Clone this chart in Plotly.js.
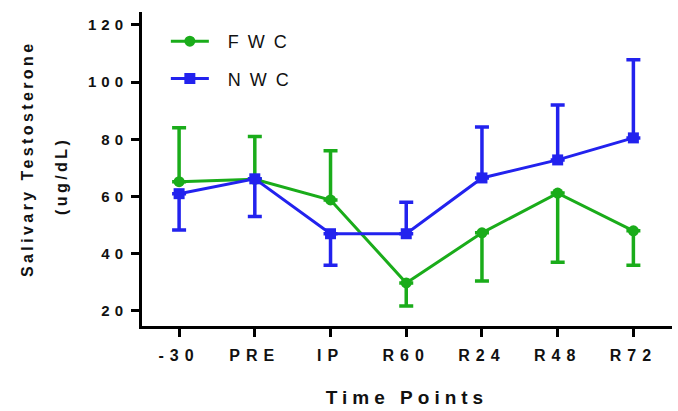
<!DOCTYPE html>
<html>
<head>
<meta charset="utf-8">
<script src="https://cdn.plot.ly/plotly-3.0.1.min.js"></script>
<style>
html,body{margin:0;padding:0;background:#fff;}
.xtick text { letter-spacing: 6px; }
.ytick text { letter-spacing: 5px; }
.legendtext { letter-spacing: 9px; }
.g-xtitle text { letter-spacing: 5px; }
.annotation-text { letter-spacing: 3.4px; }
</style>
</head>
<body>
<div id="chart" style="width:678px;height:411px;"></div>
<script>
const timePoints = ["-30", "PRE", "IP", "R60", "R24", "R48", "R72"];
const fwcMean = [65.2, 66, 58.8, 29.8, 47.3, 61.2, 48];
const fwcErrUp = [18.8, 15, 17.2, 0, 0, 0, 0];
const fwcErrDown = [0, 0, 0, 8.1, 16.8, 24.2, 12];
const nwcMean = [61, 66.2, 47, 47, 66.5, 72.8, 80.5];
const nwcErrUp = [0, 0, 0, 11, 17.8, 19.2, 27.3];
const nwcErrDown = [12.7, 13.2, 11, 0, 0, 0, 0];

const green = "#1aac1a";
const blue = "#2222ee";
const FONT = "Liberation Sans, Arial, sans-serif";

const traces = [
  {
    x: timePoints, y: fwcMean, name: "&nbsp;FWC", type: "scatter", mode: "lines+markers",
    legendgroup: "a",
    line: {color: green, width: 3},
    marker: {color: green, size: 11, symbol: "circle"},
    error_y: {type: "data", symmetric: false, array: fwcErrUp, arrayminus: fwcErrDown,
      color: green, thickness: 3.5, width: 7}
  },
  {
    x: timePoints, y: nwcMean, name: "&nbsp;NWC", type: "scatter", mode: "lines+markers",
    legendgroup: "b",
    line: {color: blue, width: 3},
    marker: {color: blue, size: 11, symbol: "square"},
    error_y: {type: "data", symmetric: false, array: nwcErrUp, arrayminus: nwcErrDown,
      color: blue, thickness: 3.5, width: 7}
  }
];

const tickFont = {family: FONT, size: 15, color: "#111", weight: "bold"};

const layout = {
  width: 678, height: 411,
  margin: {l: 142, r: 6, t: 12, b: 85},
  paper_bgcolor: "#fff", plot_bgcolor: "#fff",
  showlegend: true,
  legend: {
    x: 0.045, y: 0.965, xanchor: "left", yanchor: "top",
    font: {family: FONT, size: 18, color: "#111"},
    bgcolor: "rgba(0,0,0,0)", tracegroupgap: 11, itemwidth: 38
  },
  xaxis: {
    type: "category",
    range: [-0.49, 6.51],
    showline: true, linecolor: "#000", linewidth: 3,
    ticks: "outside", ticklen: 8, tickwidth: 3, tickcolor: "#000",
    showgrid: false, zeroline: false,
    tickfont: {family: FONT, size: 16, color: "#111", weight: "bold"},
    ticklabelstandoff: 5,
    title: {text: "Time Points", font: {family: FONT, size: 19, color: "#111", weight: "bold"}, standoff: 28}
  },
  yaxis: {
    range: [14.75, 124.5],
    tickvals: [20, 40, 60, 80, 100, 120],
    showline: true, linecolor: "#000", linewidth: 3,
    ticks: "outside", ticklen: 8, tickwidth: 3, tickcolor: "#000",
    showgrid: false, zeroline: false,
    tickfont: tickFont,
    ticklabelstandoff: 0
  },
  annotations: [
    {text: "Salivary Testosterone", xref: "paper", yref: "paper", x: -0.217, y: 0.535, xanchor: "center", yanchor: "middle",
      textangle: -90, showarrow: false,
      font: {family: FONT, size: 16, color: "#111", weight: "bold"}},
    {text: "(ug/dL)", xref: "paper", yref: "paper", x: -0.151, y: 0.478, xanchor: "center", yanchor: "middle",
      textangle: -90, showarrow: false,
      font: {family: FONT, size: 16, color: "#111", weight: "bold"}}
  ]
};

Plotly.newPlot("chart", traces, layout, {displayModeBar: false, staticPlot: true});
</script>
</body>
</html>
